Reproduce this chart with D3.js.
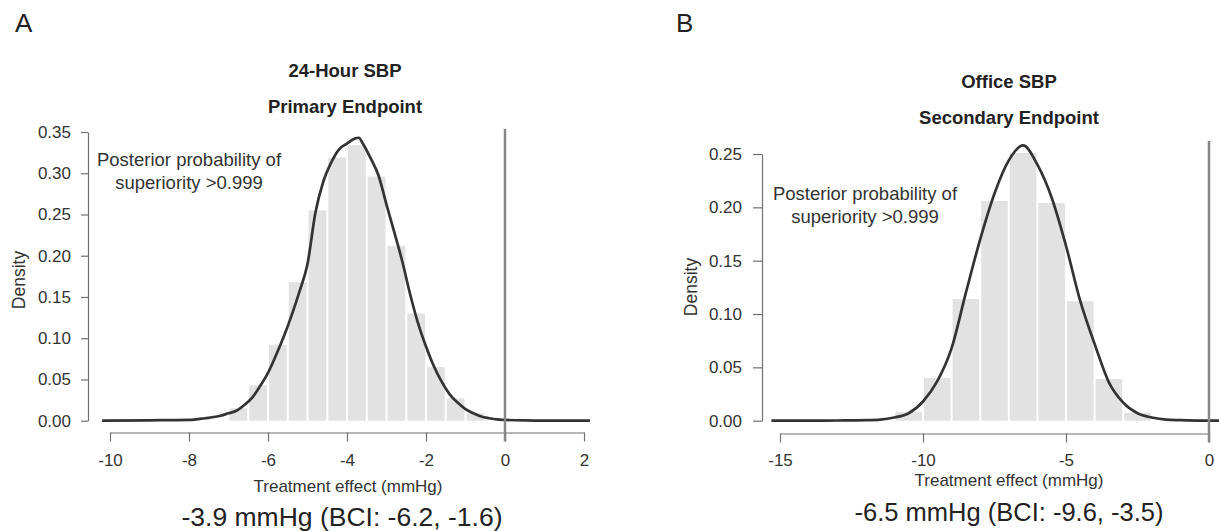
<!DOCTYPE html>
<html>
<head>
    <meta charset="utf-8">
    <style>
        body { margin: 0; background: #fff; }
        svg { display: block; font-family: 'Liberation Sans', Arial, sans-serif; }
        .axis path, .axis line { stroke: #707070; stroke-width: 1.2; }
        .axis text { fill: #333; font-size: 17px; font-family: 'Liberation Sans', Arial, sans-serif; }
    </style>
</head>
<body>
<svg width="1219" height="531"></svg>

<script src="https://d3js.org/d3.v7.min.js"></script>
<script>
    //------------------------ DATA ------------------------//
    // Panel A: 24-hour SBP, histogram bins (left edge, width 0.5) and density curve
    let binA_left = [-7, -6.5, -6, -5.5, -5, -4.5, -4, -3.5, -3, -2.5, -2, -1.5, -1];
    let binA_density = [0.015, 0.043, 0.092, 0.168, 0.255, 0.319, 0.334, 0.296, 0.212, 0.130, 0.065, 0.027, 0.009];
    let binA_width = 0.5;

    let curveA_x = [-10.2, -9, -8, -7.6, -7.2, -7.0, -6.8, -6.6, -6.4, -6.2, -6.0, -5.8, -5.6, -5.4, -5.2, -5.0,
        -4.8, -4.6, -4.4, -4.2, -4.0, -3.8, -3.7, -3.6, -3.4, -3.2, -3.0, -2.8, -2.6, -2.4, -2.2, -2.0,
        -1.8, -1.6, -1.4, -1.2, -1.0, -0.8, -0.6, -0.4, -0.2, 0, 0.5, 1, 2.15];
    let curveA_y = [0, 0.0005, 0.001, 0.003, 0.006, 0.009, 0.012, 0.019, 0.028, 0.042, 0.058, 0.079, 0.102, 0.128, 0.157, 0.190,
        0.252, 0.290, 0.313, 0.329, 0.336, 0.342, 0.343, 0.336, 0.318, 0.297, 0.262, 0.228, 0.193, 0.153, 0.118, 0.090,
        0.066, 0.047, 0.032, 0.022, 0.014, 0.009, 0.005, 0.003, 0.0015, 0.001, 0.0003, 0, 0];

    let xTicksA = [-10, -8, -6, -4, -2, 0, 2];
    let yTicksA = [0, 0.05, 0.10, 0.15, 0.20, 0.25, 0.30, 0.35];

    // Panel B: office SBP, histogram bins (left edge, width 1) and density curve
    let binB_left = [-11, -10, -9, -8, -7, -6, -5, -4, -3];
    let binB_density = [0.0084, 0.040, 0.114, 0.206, 0.251, 0.204, 0.112, 0.039, 0.0075];
    let binB_width = 1;

    let curveB_x = [-15.3, -14, -13, -12, -11.5, -11, -10.5, -10, -9.5, -9, -8.5, -8, -7.5, -7, -6.5,
        -6, -5.5, -5, -4.5, -4, -3.5, -3, -2.5, -2, -1.5, -1, 0, 0.35];
    let curveB_y = [0, 0, 0.0002, 0.0005, 0.001, 0.003, 0.007, 0.018, 0.037, 0.068, 0.120, 0.170, 0.213, 0.244, 0.258,
        0.240, 0.209, 0.164, 0.112, 0.072, 0.036, 0.017, 0.007, 0.003, 0.001, 0.0005, 0, 0];

    let xTicksB = [-15, -10, -5, 0];
    let yTicksB = [0, 0.05, 0.10, 0.15, 0.20, 0.25];

    //------------------------ LAYOUT ------------------------//
    let svg = d3.select("svg");

    // plain hyphen minus, like the original R output
    let fmtInt = d => String(d);
    let fmt2 = d => d.toFixed(2);

    let panels = [
        {
            letter: "A", letterX: 15,
            title1: "24-Hour SBP", title2: "Primary Endpoint", titleX: 345, title1Y: 77, title2Y: 113,
            note: ["Posterior probability of", "superiority >0.999"], noteX: 189, noteY: [166, 189],
            bins: binA_left, dens: binA_density, bw: binA_width,
            cx: curveA_x, cy: curveA_y,
            xTicks: xTicksA, yTicks: yTicksA,
            xDomain: [-10, 2], xRange: [110, 584],
            yDomain: [0, 0.35], yRange: [420.7, 132],
            xAxisY: 432.5, yAxisX: 88, yTick: 7, yLabelGap: 10,
            vTop: 129, xLabelY: 466,
            xTitleX: 348, xTitleY: 492,
            yTitleX: 25, yTitleY: 280,
            summary: "-3.9 mmHg (BCI: -6.2, -1.6)", sumX: 342, sumY: 526, sumSize: 26.5
        },
        {
            letter: "B", letterX: 676,
            title1: "Office SBP", title2: "Secondary Endpoint", titleX: 1009, title1Y: 88, title2Y: 124,
            note: ["Posterior probability of", "superiority >0.999"], noteX: 865, noteY: [200, 223],
            bins: binB_left, dens: binB_density, bw: binB_width,
            cx: curveB_x, cy: curveB_y,
            xTicks: xTicksB, yTicks: yTicksB,
            xDomain: [-15, 0], xRange: [780, 1209],
            yDomain: [0, 0.25], yRange: [420.7, 154],
            xAxisY: 433.5, yAxisX: 762, yTick: 9, yLabelGap: 11,
            vTop: 141, xLabelY: 465.5,
            xTitleX: 1009, xTitleY: 486,
            yTitleX: 697, yTitleY: 287,
            summary: "-6.5 mmHg (BCI: -9.6, -3.5)", sumX: 1009, sumY: 521, sumSize: 25.5
        }
    ];

    panels.forEach(function(p) {
        let x = d3.scaleLinear().domain(p.xDomain).range(p.xRange);
        let y = d3.scaleLinear().domain(p.yDomain).range(p.yRange);
        let g = svg.append("g");

        // histogram bars
        g.selectAll(".bar")
            .data(p.bins.map((b, i) => ({x0: b, d: p.dens[i]})))
            .join("rect")
            .attr("class", "bar")
            .attr("x", d => x(d.x0) + 1)
            .attr("width", d => x(d.x0 + p.bw) - x(d.x0) - 2)
            .attr("y", d => y(d.d))
            .attr("height", d => y(0) - y(d.d))
            .style("fill", "#e2e2e2");

        // density curve
        let line = d3.line()
            .x(d => x(d[0]))
            .y(d => y(d[1]))
            .curve(d3.curveMonotoneX);

        g.append("path")
            .datum(p.cx.map((v, i) => [v, p.cy[i]]))
            .attr("d", line)
            .style("fill", "none")
            .style("stroke", "#333")
            .style("stroke-width", 2.7)
            .style("stroke-linejoin", "round");

        // x axis
        let xAxis = g.append("g")
            .attr("class", "axis")
            .attr("transform", "translate(0," + p.xAxisY + ")")
            .call(d3.axisBottom(x).tickValues(p.xTicks).tickSize(9).tickSizeOuter(0).tickFormat(fmtInt));
        xAxis.selectAll("text")
            .attr("y", p.xLabelY - p.xAxisY)
            .attr("dy", 0);

        // y axis
        let yAxis = g.append("g")
            .attr("class", "axis")
            .attr("transform", "translate(" + p.yAxisX + ",0)")
            .call(d3.axisLeft(y).tickValues(p.yTicks).tickSize(p.yTick).tickSizeOuter(0).tickFormat(fmt2));
        yAxis.selectAll("text")
            .attr("x", -(p.yTick + p.yLabelGap));

        // reference line at zero
        g.append("line")
            .attr("x1", x(0)).attr("x2", x(0))
            .attr("y1", p.vTop).attr("y2", p.xAxisY + 9)
            .style("stroke", "#888")
            .style("stroke-width", 2.5);

        // texts
        g.append("text")
            .attr("x", p.letterX).attr("y", 32)
            .style("font-size", "26px").style("fill", "#222")
            .text(p.letter);

        g.append("text")
            .attr("x", p.titleX).attr("y", p.title1Y)
            .attr("text-anchor", "middle")
            .style("font-size", "18.5px").style("font-weight", "bold").style("fill", "#222")
            .text(p.title1);

        g.append("text")
            .attr("x", p.titleX).attr("y", p.title2Y)
            .attr("text-anchor", "middle")
            .style("font-size", "18.5px").style("font-weight", "bold").style("fill", "#222")
            .text(p.title2);

        p.note.forEach(function(t, i) {
            g.append("text")
                .attr("x", p.noteX).attr("y", p.noteY[i])
                .attr("text-anchor", "middle")
                .style("font-size", "18.5px").style("fill", "#333")
                .text(t);
        });

        g.append("text")
            .attr("x", p.xTitleX).attr("y", p.xTitleY)
            .attr("text-anchor", "middle")
            .style("font-size", "17px").style("fill", "#333")
            .text("Treatment effect (mmHg)");

        g.append("text")
            .attr("transform", "translate(" + p.yTitleX + "," + p.yTitleY + ") rotate(-90)")
            .attr("text-anchor", "middle")
            .style("font-size", "17.5px").style("fill", "#333")
            .text("Density");

        g.append("text")
            .attr("x", p.sumX).attr("y", p.sumY)
            .attr("text-anchor", "middle")
            .style("font-size", p.sumSize + "px").style("fill", "#222")
            .text(p.summary);
    });
</script>
</body>
</html>
